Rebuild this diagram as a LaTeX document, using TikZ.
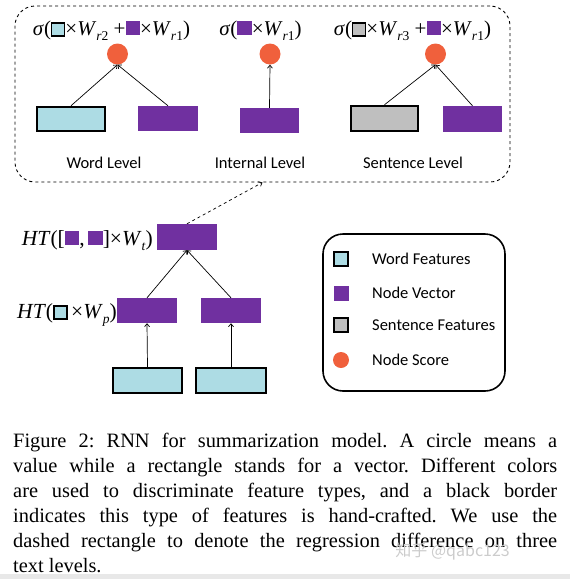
\documentclass[tikz,border=0pt]{standalone}
\usepackage{fontspec}
\setmainfont{Liberation Serif}
\newfontfamily\carl{Carlito}
\newfontfamily\cjkf{Noto Sans CJK SC}
\usetikzlibrary{arrows.meta}
\definecolor{lb}{HTML}{ADDCE4}
\definecolor{vp}{HTML}{7030A0}
\definecolor{gy}{HTML}{BFBFBF}
\definecolor{sc}{HTML}{F0603C}
\newcommand\sqC{{\setlength\fboxrule{1.5pt}\setlength\fboxsep{0pt}\fcolorbox{black}{lb}{\rule{0pt}{11.5pt}\hspace{11.5pt}}}}
\newcommand\sqG{{\setlength\fboxrule{1.5pt}\setlength\fboxsep{0pt}\fcolorbox{black}{gy}{\rule{0pt}{11.5pt}\hspace{11.5pt}}}}
\newcommand\sqP{\textcolor{vp}{\rule{14.5pt}{14.5pt}}}
\newcommand\sbs[1]{\raisebox{-5pt}{\fontsize{13.5}{13.5}\selectfont #1}}
\begin{document}
\begin{tikzpicture}[x=1pt,y=-1pt,
  vbox/.style={fill=vp,draw=none,inner sep=0},
  cbox/.style={fill=lb,draw=black,line width=2.5pt,inner sep=0},
  gbox/.style={fill=gy,draw=black,line width=2.5pt,inner sep=0},
  score/.style={circle,fill=sc,draw=none,inner sep=0,minimum size=21pt},
  arr/.style={-{Straight Barb[length=3pt,width=5pt]},line width=0.7pt},
  lvl/.style={font=\carl\fontsize{16.5}{18}\selectfont,inner sep=0},
  frm/.style={font=\fontsize{21}{23}\selectfont,inner sep=0,anchor=base},
  leg/.style={font=\carl\fontsize{16.5}{18}\selectfont,inner sep=0,anchor=west},
  region/.style={draw,dashed,line width=0.9pt,rounded corners=20pt,inner sep=0},
  legbox/.style={draw,line width=1.6pt,rounded corners=20pt,inner sep=0}]
\useasboundingbox (0,0) rectangle (570,579);
\fill[gray!18] (0,574) rectangle (570,579);

% dashed region
\node[region,minimum width=495pt,minimum height=176pt] (reg) at (262.5,94) {};

% formulas
\node[frm] (f1) at (111.5,35) {\textit{σ}(\sqC×\textit{W}\sbs{\textit{r}2} +\sqP×\textit{W}\sbs{\textit{r}1})};
\node[frm] (f2) at (260.5,35) {\textit{σ}(\sqP×\textit{W}\sbs{\textit{r}1})};
\node[frm] (f3) at (412.5,35) {\textit{σ}(\sqG×\textit{W}\sbs{\textit{r}3} +\sqP×\textit{W}\sbs{\textit{r}1})};

% scores
\node[score] (s1) at (117.5,54) {};
\node[score] (s2) at (270,54) {};
\node[score] (s3) at (435.5,54) {};

% top row boxes
\node[cbox,minimum width=68pt,minimum height=24pt] (wc) at (71,119) {};
\node[vbox,minimum width=60pt,minimum height=25pt] (wp) at (168,118.5) {};
\node[vbox,minimum width=59pt,minimum height=25pt] (ip) at (269.5,120.5) {};
\node[gbox,minimum width=67pt,minimum height=25pt] (sg) at (384.5,118.5) {};
\node[vbox,minimum width=59pt,minimum height=26pt] (sp) at (472.5,119) {};

\draw[arr] (wc.north) -- (s1.south);
\draw[arr] (wp.north) -- (s1.south);
\draw[arr] (ip.north) -- (s2.south);
\draw[arr] (sg.north) -- (s3.south);
\draw[arr] (sp.north) -- (s3.south);

% level labels
\node[lvl] (l1) at (104,163) {Word Level};
\node[lvl] (l2) at (260,163) {Internal Level};
\node[lvl] (l3) at (413,163) {Sentence Level};

% lower tree
\node[vbox,minimum width=60pt,minimum height=26pt] (tp) at (187,237) {};
\node[vbox,minimum width=60pt,minimum height=25pt] (ml) at (147,310.5) {};
\node[vbox,minimum width=60pt,minimum height=25pt] (mr) at (231,310.5) {};
\node[cbox,minimum width=69pt,minimum height=25pt] (bl) at (147.5,380.5) {};
\node[cbox,minimum width=70pt,minimum height=25pt] (br) at (231,380.5) {};

\draw[arr] (ml.north) -- (tp.south);
\draw[arr] (mr.north) -- (tp.south);
\draw[arr] (bl.north) -- (ml.south);
\draw[arr] (br.north) -- (mr.south);
\draw[arr,dashed] (tp.north) -- (reg.south);

\node[font=\fontsize{21.5}{24}\selectfont,inner sep=0,anchor=base east] (h1) at (153,245)
  {\textit{HT}([\sqP,\,\sqP]×\textit{W}\sbs{\textit{t}})};
\node[font=\fontsize{21.5}{24}\selectfont,inner sep=0,anchor=base east] (h2) at (117,318)
  {\textit{HT}(\sqC\,×\textit{W}\sbs{\textit{p}})};

% legend
\node[legbox,minimum width=182pt,minimum height=157pt] (lg) at (414,312.5) {};
\node[cbox,line width=1.5pt,minimum size=14pt] (k1) at (341,259) {};
\node[vbox,minimum size=15pt] (k2) at (341,293) {};
\node[gbox,line width=1.5pt,minimum size=14pt] (k3) at (341,325) {};
\node[score,minimum size=16pt] (k4) at (341,360) {};
\node[leg] (t1) at (372,259) {Word Features};
\node[leg] (t2) at (372,293) {Node Vector};
\node[leg] (t3) at (372,325) {Sentence Features};
\node[leg] (t4) at (372,360) {Node Score};

% caption
\node[anchor=north west,text width=544pt,align=justify,inner sep=0,
  font=\fontsize{20.4}{25}\selectfont\frenchspacing] (cap) at (13,432.5)
{Figure 2: RNN for summarization model. A circle means a\linebreak
value while a rectangle stands for a vector. Different colors\linebreak
are used to discriminate feature types, and a black border\linebreak
indicates this type of features is hand-crafted. We use the\linebreak
dashed rectangle to denote the regression difference on three\linebreak
text levels.};

\node[anchor=east,inner sep=0,text=gray!40,font=\cjkf\fontsize{16}{18}\selectfont] (wm) at (510,552) {知乎 @qabc123};
\end{tikzpicture}
\end{document}
